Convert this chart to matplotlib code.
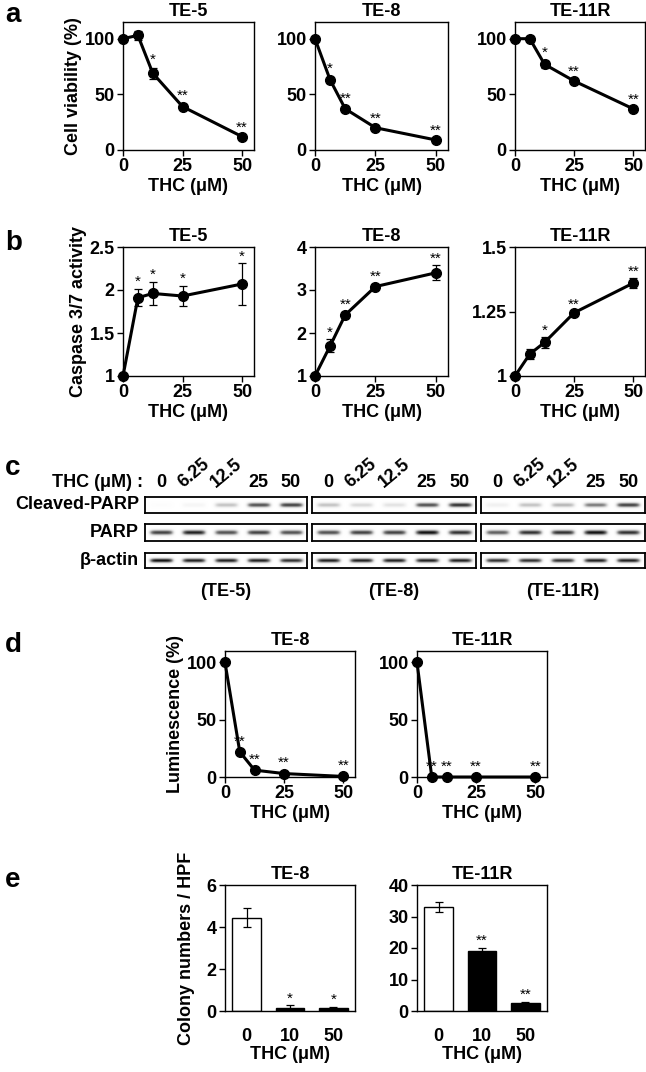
import matplotlib
matplotlib.use("Agg")
import matplotlib.pyplot as plt
import numpy as np

plt.rcParams['font.family'] = ['Liberation Sans', 'DejaVu Sans']
plt.rcParams['font.weight'] = 'bold'
FS = 13

conc = [0, 6.25, 12.5, 25, 50]
cells = ["TE-5", "TE-8", "TE-11R"]
via = {"TE-5": [100, 103, 69, 39, 12], "TE-8": [100, 63, 37, 20, 9], "TE-11R": [100, 100, 77, 62, 37]}
via_err = {"TE-5": [0, 4, 5, 2, 1], "TE-8": [0, 3, 2, 1, 1], "TE-11R": [0, 2, 3, 1, 1]}
via_sig = {"TE-5": ["", "", "*", "**", "**"], "TE-8": ["", "*", "**", "**", "**"], "TE-11R": ["", "", "*", "**", "**"]}
cas = {"TE-5": [1, 1.91, 1.96, 1.93, 2.07], "TE-8": [1, 1.7, 2.42, 3.08, 3.4], "TE-11R": [1, 1.085, 1.13, 1.245, 1.36]}
cas_err = {"TE-5": [0, 0.1, 0.13, 0.12, 0.24], "TE-8": [0, 0.15, 0.08, 0.06, 0.17], "TE-11R": [0, 0.02, 0.02, 0.005, 0.018]}
cas_sig = {"TE-5": ["", "*", "*", "*", "*"], "TE-8": ["", "*", "**", "**", "**"], "TE-11R": ["", "", "*", "**", "**"]}
cas_ylim = {"TE-5": (1, 2.5), "TE-8": (1, 4), "TE-11R": (1, 1.5)}
cas_ticks = {"TE-5": [1, 1.5, 2, 2.5], "TE-8": [1, 2, 3, 4], "TE-11R": [1, 1.25, 1.5]}
cas_tl = {"TE-5": ["1", "1.5", "2", "2.5"], "TE-8": ["1", "2", "3", "4"], "TE-11R": ["1", "1.25", "1.5"]}
lum_cells = ["TE-8", "TE-11R"]
lum = {"TE-8": [100, 22, 6, 3, 0.5], "TE-11R": [100, 0, 0, 0, 0]}
lum_sig = {"TE-8": ["", "**", "**", "**", "**"], "TE-11R": ["", "**", "**", "**", "**"]}
col_conc = ["0", "10", "50"]
col = {"TE-8": [4.45, 0.15, 0.15], "TE-11R": [33, 19, 2.5]}
col_err = {"TE-8": [0.45, 0.12, 0.06], "TE-11R": [1.5, 1.0, 0.5]}
col_sig = {"TE-8": ["", "*", "*"], "TE-11R": ["", "**", "**"]}
col_ylim = {"TE-8": (0, 6), "TE-11R": (0, 40)}
col_ticks = {"TE-8": [0, 2, 4, 6], "TE-11R": [0, 10, 20, 30, 40]}
blot_rows = ["Cleaved-PARP", "PARP", "β-actin"]
blot = {
    "TE-5": [[0.02, 0.08, 0.35, 0.75, 0.8], [0.8, 0.9, 0.75, 0.8, 0.75], [0.95, 0.9, 0.9, 0.9, 0.85]],
    "TE-8": [[0.35, 0.25, 0.2, 0.75, 0.85], [0.75, 0.8, 0.8, 0.95, 0.85], [0.9, 0.9, 0.9, 0.9, 0.9]],
    "TE-11R": [[0.12, 0.35, 0.4, 0.6, 0.8], [0.7, 0.85, 0.85, 0.95, 0.85], [0.85, 0.85, 0.85, 0.9, 0.9]],
}
blot_lanes = ["0", "6.25", "12.5", "25", "50"]

W, H = 646, 1072
fig = plt.figure(figsize=(W / 100, H / 100), dpi=100)

def ax_px(x0, y0, x1, y1):
    return fig.add_axes([x0 / W, 1 - y1 / H, (x1 - x0) / W, (y1 - y0) / H])

def style(ax):
    for s in ax.spines.values():
        s.set_linewidth(1.0)
    ax.tick_params(direction='out', length=4, width=1, labelsize=FS, pad=2)

def line_panel(ax, y, e, sig, title, off):
    ax.errorbar(conc, y, yerr=e, color='black', lw=2.2, marker='o', ms=7,
                capsize=3, elinewidth=0.9, capthick=0.9, clip_on=False, zorder=3)
    for xi, yi, ei, s in zip(conc, y, e, sig):
        if s:
            ax.text(xi, yi + ei + off, s, ha='center', va='bottom', fontsize=11, fontweight='normal')
    ax.set_xlim(0, 55)
    ax.set_xticks([0, 25, 50])
    ax.set_xlabel("THC (μM)", fontsize=FS, fontweight='bold', labelpad=2)
    ax.set_title(title, fontsize=FS, fontweight='bold', pad=4)
    style(ax)

# panel a
xs = [(123, 254), (315, 448), (515, 645)]
for (x0, x1), c in zip(xs, cells):
    ax = ax_px(x0, 22, x1, 150)
    line_panel(ax, via[c], via_err[c], via_sig[c], c, 1)
    ax.set_ylim(0, 115)
    ax.set_yticks([0, 50, 100])
    if c == "TE-5":
        ax.set_ylabel("Cell viability (%)", fontsize=FS, fontweight='bold', labelpad=2)

# panel b
for (x0, x1), c in zip(xs, cells):
    ax = ax_px(x0, 247, x1, 376)
    lo, hi = cas_ylim[c]
    line_panel(ax, cas[c], cas_err[c], cas_sig[c], c, 0)
    ax.set_ylim(lo, hi)
    ax.set_yticks(cas_ticks[c])
    ax.set_yticklabels(cas_tl[c])
    if c == "TE-5":
        ax.set_ylabel("Caspase 3/7 activity", fontsize=FS, fontweight='bold', labelpad=2)

# panel c
bx = [(145, 307), (312, 476), (481, 645)]
rows_y = [(497, 513), (524, 541), (553, 568)]
for (x0, x1), c in zip(bx, cells):
    for ri, (y0, y1) in enumerate(rows_y):
        ax = ax_px(x0, y0, x1, y1)
        vals = np.array(blot[c][ri])
        xx = np.linspace(0, 5, 300)
        yy = np.linspace(-1, 1, 40)
        X, Y = np.meshgrid(xx, yy)
        img = np.zeros_like(X)
        for li, v in enumerate(vals):
            img += v * np.exp(-((X - li - 0.5) / 0.36) ** 6) * np.exp(-(Y / 0.3) ** 2)
        img = np.clip(img, 0, 1)
        ax.imshow(img, cmap='Greys', vmin=0, vmax=1, aspect='auto', extent=[0, 5, -1, 1])
        ax.set_xticks([]); ax.set_yticks([])
        for s in ax.spines.values():
            s.set_linewidth(1.3)
        if c == "TE-5":
            fig.text((x0 - 6) / W, 1 - (y0 + y1) / 2 / H, blot_rows[ri], ha='right', va='center',
                     fontsize=FS, fontweight='bold')
    for li, lab in enumerate(blot_lanes):
        lx = x0 + (x1 - x0) * (li + 0.5) / 5
        rot = 40 if lab in ("6.25", "12.5") else 0
        fig.text(lx / W, 1 - 487 / H, lab, ha='center', va='baseline', rotation=rot,
                 fontsize=FS, fontweight='bold')
    fig.text((x0 + x1) / 2 / W, 1 - 592 / H, f"({c})", ha='center', va='center',
             fontsize=FS, fontweight='bold')
fig.text(143 / W, 1 - 487 / H, "THC (μM) :", ha='right', va='baseline', fontsize=FS, fontweight='bold')

# panel d
dx = [(225, 355), (417, 547)]
for (x0, x1), c in zip(dx, lum_cells):
    ax = ax_px(x0, 651, x1, 777)
    line_panel(ax, lum[c], [0] * 5, lum_sig[c], c, 3)
    ax.set_ylim(0, 110)
    ax.set_yticks([0, 50, 100])
    if c == "TE-8":
        ax.set_ylabel("Luminescence (%)", fontsize=FS, fontweight='bold', labelpad=2)

# panel e
for (x0, x1), c in zip(dx, lum_cells):
    ax = ax_px(x0, 885, x1, 1011)
    pos = np.arange(3)
    colors = ['white', 'black', 'black']
    ax.bar(pos, col[c], width=0.66, color=colors, edgecolor='black', lw=1,
           yerr=col_err[c], capsize=3, error_kw=dict(elinewidth=0.9, capthick=0.9))
    for p, v, e, s in zip(pos, col[c], col_err[c], col_sig[c]):
        if s:
            ax.text(p, v + e, s, ha='center', va='bottom', fontsize=11, fontweight='normal')
    ax.set_xticks(pos)
    ax.set_xticklabels(col_conc)
    ax.tick_params(axis='x', length=0, pad=12)
    ax.set_xlim(-0.5, 2.5)
    ax.set_ylim(*col_ylim[c])
    ax.set_yticks(col_ticks[c])
    ax.set_title(c, fontsize=FS, fontweight='bold', pad=4)
    style(ax)
    ax.tick_params(axis='x', length=0, pad=12)
    ax.set_xlabel("THC (μM)", fontsize=FS, fontweight='bold', labelpad=1)
    if c == "TE-8":
        ax.set_ylabel("Colony numbers / HPF", fontsize=FS, fontweight='bold', labelpad=8)

for lab, y in [("a", 15), ("b", 243), ("c", 468), ("d", 645), ("e", 880)]:
    fig.text(5 / W, 1 - y / H, lab, fontsize=20, fontweight='bold', va='center')

fig.savefig("out.png", dpi=100)
